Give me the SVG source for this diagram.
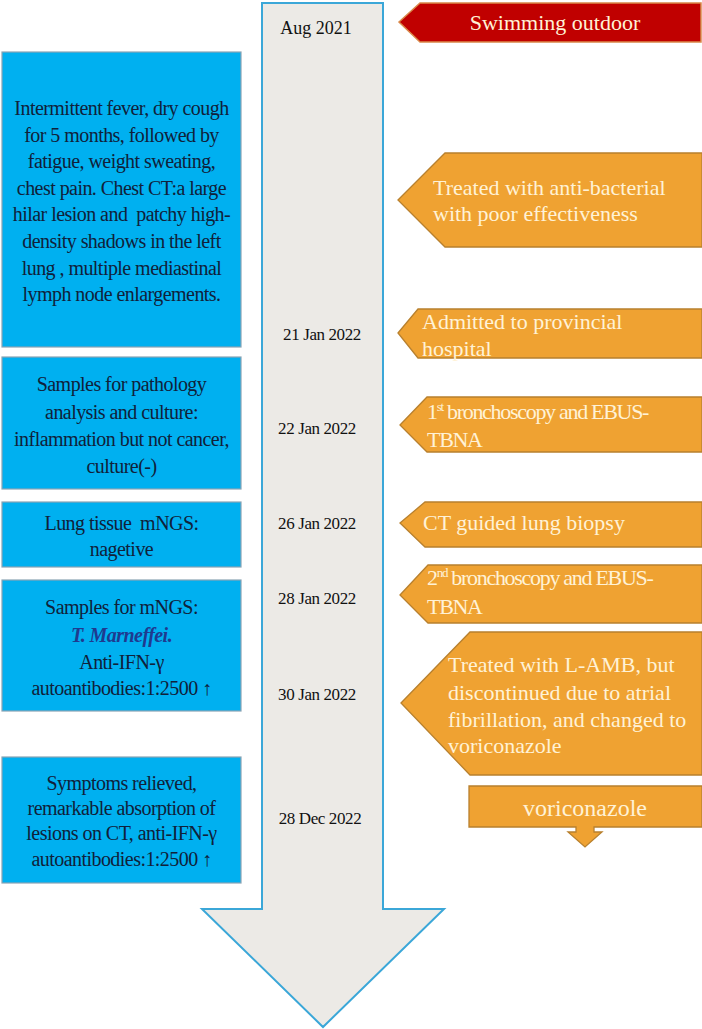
<svg xmlns="http://www.w3.org/2000/svg" width="702" height="1029" viewBox="0 0 702 1029">
<style>
text{font-family:'Liberation Serif','Times New Roman','DejaVu Serif',serif}
.blue{fill:#00B0F0;stroke:#8AA4B4;stroke-width:1.2}
.bt{font-size:20px;fill:#10213A;text-anchor:middle;letter-spacing:-0.55px}
.date{font-size:17px;fill:#111;text-anchor:middle;letter-spacing:-0.4px}
.org{fill:#EFA232;stroke:#B8802E;stroke-width:1.3}
.ot{font-size:22px;fill:#FFF2D6}
.cond{letter-spacing:-1.3px}
</style>
<rect width="702" height="1029" fill="#FFFFFF"/>
<g id="timeline">
<path d="M262,3 L383,3 L383,909 L444,909 L323,1027 L202,909 L262,909 Z" fill="#ECEAE6" stroke="#3BA7D8" stroke-width="2"/>
</g>
<g id="connectors"></g>
<g id="dates">
<text class="date" x="316" y="34" style="font-size:18px;letter-spacing:0">Aug 2021</text>
<text class="date" x="322" y="340">21 Jan 2022</text>
<text class="date" x="317" y="434">22 Jan 2022</text>
<text class="date" x="317" y="529">26 Jan 2022</text>
<text class="date" x="317" y="604">28 Jan 2022</text>
<text class="date" x="317" y="700">30 Jan 2022</text>
<text class="date" x="320" y="824">28 Dec 2022</text>
</g>
<g id="swimming">
<path d="M399,22 L420,3 L701,3 L701,42 L420,42 Z" fill="#C00000" stroke="#D9884A" stroke-width="1.5"/>
<text class="ot" x="555" y="30" text-anchor="middle">Swimming outdoor</text>
</g>
<g id="box-symptoms">
<rect class="blue" x="2" y="52" width="239" height="295"/>
<text class="bt" x="121.5" y="115">Intermittent fever, dry cough</text>
<text class="bt" x="121.5" y="141.5">for 5 months, followed by</text>
<text class="bt" x="121.5" y="168">fatigue, weight sweating,</text>
<text class="bt" x="121.5" y="195">chest pain. Chest CT:a large</text>
<text class="bt" x="121.5" y="221" xml:space="preserve">hilar lesion and  patchy high-</text>
<text class="bt" x="121.5" y="248">density shadows in the left</text>
<text class="bt" x="121.5" y="275">lung , multiple mediastinal</text>
<text class="bt" x="121.5" y="301">lymph node enlargements.</text>
</g>
<g id="box-pathology">
<rect class="blue" x="2" y="357" width="239" height="132"/>
<text class="bt" x="121.5" y="391">Samples for pathology</text>
<text class="bt" x="121.5" y="419">analysis and culture:</text>
<text class="bt" x="121.5" y="446">inflammation but not cancer,</text>
<text class="bt" x="121.5" y="473">culture(-)</text>
</g>
<g id="box-lung-mngs">
<rect class="blue" x="2" y="502" width="239" height="65"/>
<text class="bt" x="121.5" y="530" xml:space="preserve">Lung tissue  mNGS:</text>
<text class="bt" x="121.5" y="556">nagetive</text>
</g>
<g id="box-mngs">
<rect class="blue" x="2" y="580" width="239" height="131"/>
<text class="bt" x="121.5" y="614">Samples for mNGS:</text>
<text class="bt" x="121.5" y="642" style="font-weight:bold;font-style:italic;fill:#1F3A8F">T. Marneffei.</text>
<text class="bt" x="121.5" y="669">Anti-IFN-γ</text>
<text class="bt" x="121.5" y="695">autoantibodies:1:2500 ↑</text>
</g>
<g id="box-outcome">
<rect class="blue" x="2" y="757" width="239" height="126"/>
<text class="bt" x="121.5" y="790">Symptoms relieved,</text>
<text class="bt" x="121.5" y="815">remarkable absorption of</text>
<text class="bt" x="121.5" y="840">lesions on CT, anti-IFN-γ</text>
<text class="bt" x="121.5" y="866">autoantibodies:1:2500 ↑</text>
</g>
<g id="ev-antibacterial">
<path class="org" d="M398,200 L445,153 L702,153 L702,247 L445,247 Z"/>
<text class="ot" x="433" y="195">Treated with anti-bacterial</text>
<text class="ot" x="433" y="221">with poor effectiveness</text>
</g>
<g id="ev-admitted">
<path class="org" d="M398,333 L418,309 L702,309 L702,358 L418,358 Z"/>
<text class="ot" x="422" y="329">Admitted to provincial</text>
<text class="ot" x="422" y="356">hospital</text>
</g>
<g id="ev-bronch1">
<path class="org" d="M400,425 L427,397 L702,397 L702,452 L427,452 Z"/>
<text class="ot cond" x="427" y="419">1<tspan font-size="13" dy="-8">st</tspan><tspan dy="8"> bronchoscopy and EBUS-</tspan></text>
<text class="ot cond" x="427" y="447">TBNA</text>
</g>
<g id="ev-ct-biopsy">
<path class="org" d="M400,523 L425,502 L702,502 L702,547 L425,547 Z"/>
<text class="ot" x="423" y="530">CT guided lung biopsy</text>
</g>
<g id="ev-bronch2">
<path class="org" d="M400,595 L428,565 L702,565 L702,623 L428,623 Z"/>
<text class="ot cond" x="427" y="585">2<tspan font-size="13" dy="-8">nd</tspan><tspan dy="8"> bronchoscopy and EBUS-</tspan></text>
<text class="ot cond" x="427" y="614">TBNA</text>
</g>
<g id="ev-lamb">
<path class="org" d="M401,703 L470,632 L702,632 L702,775 L470,775 Z"/>
<text class="ot" x="448" y="672">Treated with L-AMB, but</text>
<text class="ot" x="448" y="700">discontinued due to atrial</text>
<text class="ot" x="448" y="727">fibrillation, and changed to</text>
<text class="ot" x="448" y="753">voriconazole</text>
</g>
<g id="ev-voriconazole">
<path class="org" d="M469,786 L702,786 L702,827 L594,827 L594,832 L602,832 L585,847 L568,832 L576,832 L576,827 L469,827 Z"/>
<text class="ot" x="585" y="816" text-anchor="middle" style="font-size:24px">voriconazole</text>
</g>
</svg>
